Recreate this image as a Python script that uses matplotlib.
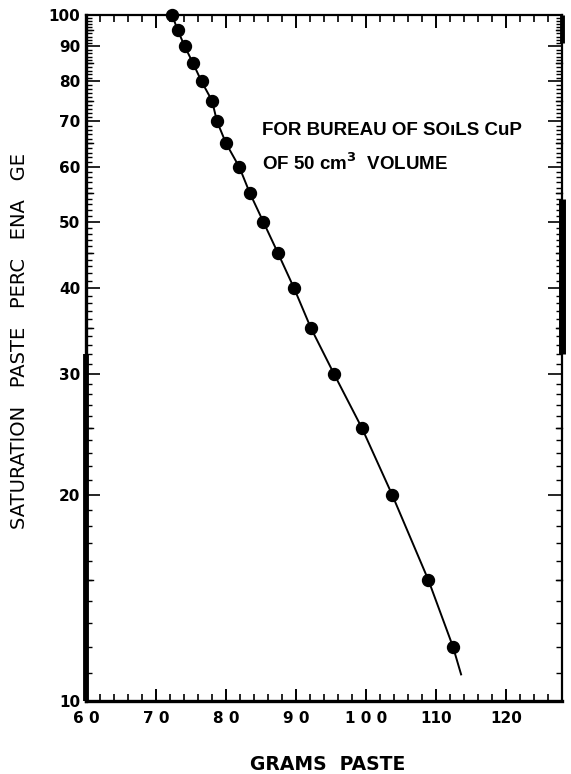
import matplotlib
matplotlib.use("Agg")
import matplotlib.pyplot as plt
from matplotlib.ticker import FixedLocator, NullFormatter

# measured points: grams paste vs saturation paste percentage
grams = [72.3, 73.1, 74.1, 75.3, 76.5, 78.0, 78.7, 80.0, 81.9, 83.4,
         85.3, 87.4, 89.7, 92.1, 95.4, 99.4, 103.7, 108.9, 112.4]
percent = [100, 95, 90, 85, 80, 75, 70, 65, 60, 55,
           50, 45, 40, 35, 30, 25, 20, 15, 12]

# fitted curve, runs a bit past the last point
curve_x = [71.9] + grams + [113.6]
curve_y = [101] + percent + [10.9]

x_ticks = [60, 70, 80, 90, 100, 110, 120]
x_labels = ["6 0", "7 0", "8 0", "9 0", "1 0 0", "110", "120"]
y_ticks = [10, 20, 30, 40, 50, 60, 70, 80, 90, 100]
y_labels = ["10", "20", "30", "40", "50", "60", "70", "80", "90", "100"]

fig = plt.figure(figsize=(5.71, 7.74), dpi=100)
ax = fig.add_axes([0.1506, 0.0943, 0.834, 0.8863])
ax.set_yscale("log")
ax.set_xlim(60, 128)
ax.set_ylim(10, 100)

ax.plot(curve_x, curve_y, color="black", lw=1.4, solid_capstyle="butt", clip_on=False)
ax.plot(grams, percent, "o", color="black", ms=8.6, clip_on=False, zorder=3)

# axes frame
for side in ["left", "bottom"]:
    ax.spines[side].set_linewidth(2.4)
for side in ["top", "right"]:
    ax.spines[side].set_linewidth(1.6)

# smudged heavy parts of the frame in the scan
trans_l = ax.get_yaxis_transform()
ax.plot([0, 0], [10, 32], transform=trans_l, color="black", lw=4.2,
        clip_on=False, solid_capstyle="butt")
ax.plot([1, 1], [32, 54], transform=trans_l, color="black", lw=5.0,
        clip_on=False, solid_capstyle="butt")
ax.plot([1, 1], [91, 100], transform=trans_l, color="black", lw=3.5,
        clip_on=False, solid_capstyle="butt")

# x ticks: tens long, every 2 short, on both sides pointing in
ax.set_xticks(x_ticks)
ax.set_xticklabels(x_labels)
ax.xaxis.set_minor_locator(FixedLocator([v for v in range(60, 129, 2) if v % 10]))
ax.tick_params(axis="x", which="major", direction="in", length=9, width=1.4,
               top=True, bottom=True, pad=7, labelsize=11)
ax.tick_params(axis="x", which="minor", direction="in", length=5, width=1.2,
               top=True, bottom=True)

# y ticks
ax.yaxis.set_major_locator(FixedLocator(y_ticks))
ax.set_yticklabels(y_labels)
minor_y = [v for v in range(11, 100) if v % 10]
ax.yaxis.set_minor_locator(FixedLocator(minor_y))
ax.yaxis.set_minor_formatter(NullFormatter())
ax.tick_params(axis="y", which="major", direction="in", length=10, width=1.2,
               left=True, right=True, pad=4, labelsize=11)
ax.tick_params(axis="y", which="minor", direction="in", length=4, width=1.0,
               left=True, right=True)
for lab in ax.get_xticklabels() + ax.get_yticklabels():
    lab.set_fontweight("bold")

# mid-decade ticks a bit longer
for v in [15, 25, 35, 45, 55, 65, 75, 85, 95]:
    ax.plot([0, 0.014], [v, v], transform=trans_l, color="black", lw=1.0, clip_on=False)
    ax.plot([1, 0.986], [v, v], transform=trans_l, color="black", lw=1.0, clip_on=False)

ax.text(0.37, 0.832, "FOR BUREAU OF SOıLS CuP", transform=ax.transAxes,
        family="Liberation Sans", fontweight="bold", fontsize=13.5, va="center")
ax.text(0.37, 0.784, "OF 50 cm$^\\mathbf{3}$  VOLUME", transform=ax.transAxes,
        family="Liberation Sans", fontweight="bold", fontsize=13.5, va="center")

fig.text(0.035, 0.559, "SATURATION   PASTE   PERC   ENA   GE", rotation=90,
         ha="center", va="center", fontsize=14)
fig.text(0.573, 0.012, "GRAMS  PASTE", ha="center", va="center",
         fontsize=13.5, fontweight="bold")

fig.savefig("out.png", dpi=100)
